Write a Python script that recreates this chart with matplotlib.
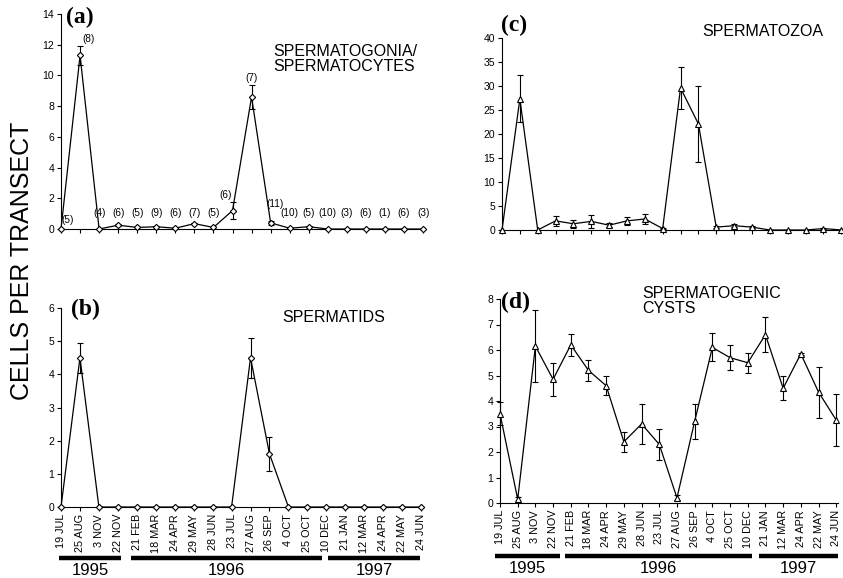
import matplotlib
matplotlib.use("Agg")
import matplotlib.pyplot as plt
import matplotlib.transforms as mtransforms
import numpy as np

plt.rcParams["font.family"] = ["Liberation Sans", "DejaVu Sans"]

dates = ["19 JUL", "25 AUG", "3 NOV", "22 NOV", "21 FEB", "18 MAR", "24 APR",
         "29 MAY", "28 JUN", "23 JUL", "27 AUG", "26 SEP", "4 OCT", "25 OCT",
         "10 DEC", "21 JAN", "12 MAR", "24 APR", "22 MAY", "24 JUN"]
years = ["1995", "1996", "1997"]

# (a) spermatogonia / spermatocytes
gonia = [0, 11.3, 0, 0.25, 0.1, 0.15, 0.05, 0.35, 0.1, 1.2,
         8.6, 0.4, 0.05, 0.15, 0, 0, 0, 0, 0, 0]
gonia_err = [0, 0.6, 0, 0.05, 0, 0.05, 0, 0.05, 0, 0.55,
             0.8, 0.15, 0, 0.05, 0, 0, 0, 0, 0, 0]
gonia_n = [5, 8, 4, 6, 5, 9, 6, 7, 5, 6, 7, 11, 10, 5, 10, 3, 6, 1, 6, 3]

# (b) spermatids
tids = [0, 4.5, 0, 0, 0, 0, 0, 0, 0, 0,
        4.5, 1.6, 0, 0, 0, 0, 0, 0, 0, 0]
tids_err = [0, 0.45, 0, 0, 0, 0, 0, 0, 0, 0,
            0.6, 0.52, 0, 0, 0, 0, 0, 0, 0, 0]

# (c) spermatozoa
zoa = [0, 27.3, 0, 1.9, 1.3, 1.8, 1.0, 1.9, 2.3, 0.3,
       29.6, 22.1, 0.6, 0.9, 0.6, 0, 0, 0, 0.3, 0]
zoa_err = [0, 4.9, 0, 1.1, 0.8, 1.3, 0.45, 0.9, 1.0, 0.1,
           4.4, 7.9, 0.2, 0.3, 0.2, 0, 0, 0, 0.1, 0]

# (d) spermatogenic cysts
cysts = [3.5, 0.15, 6.15, 4.85, 6.2, 5.2, 4.6, 2.4, 3.1, 2.3,
         0.2, 3.2, 6.1, 5.7, 5.5, 6.6, 4.5, 5.85, 4.35, 3.25]
cysts_err = [0.45, 0.1, 1.4, 0.65, 0.42, 0.42, 0.38, 0.4, 0.78, 0.6,
             0.1, 0.68, 0.55, 0.5, 0.4, 0.68, 0.48, 0.03, 1.0, 1.02]

W, H = 843, 578
fig = plt.figure(figsize=(W / 100, H / 100), dpi=100)


def px_axes(left, bottom_px, right, top_px):
    return fig.add_axes([left / W, 1 - bottom_px / H,
                         (right - left) / W, (bottom_px - top_px) / H])


def style(ax, ymax, ystep, show_labels):
    ax.spines["top"].set_visible(False)
    ax.spines["right"].set_visible(False)
    ax.set_xlim(0, 19.1)
    ax.set_ylim(0, ymax)
    ax.set_yticks(np.arange(0, ymax + 0.01, ystep))
    ax.set_xticks(np.arange(len(dates)))
    ax.tick_params(axis="both", direction="out", length=3, width=0.8,
                   labelsize=7.5, pad=2)
    if show_labels:
        ax.set_xticklabels(dates, rotation=90, fontsize=7.8)
    else:
        ax.set_xticklabels([])


def draw(ax, vals, errs, marker, ms):
    x = np.arange(len(vals))
    ax.errorbar(x, vals, yerr=errs, color="black", lw=0.9, elinewidth=0.8,
                capsize=2.5, capthick=0.8, marker=marker, ms=ms,
                mfc="white", mec="black", mew=0.8, clip_on=False, zorder=3)


def year_bars(ax, spans, bar_y, text_y):
    tr = mtransforms.blended_transform_factory(ax.transData, ax.transAxes)
    for yr, (a, b) in zip(years, spans):
        ax.plot([a, b], [bar_y, bar_y], color="black", lw=3.2,
                transform=tr, clip_on=False, solid_capstyle="butt")
        ax.text((a + b) / 2, text_y, yr, transform=tr, ha="center",
                va="center", fontsize=12)


ax_a = px_axes(61, 229, 425, 14)
ax_b = px_axes(61, 507, 423, 308)
ax_c = px_axes(502, 230, 843, 38)
ax_d = px_axes(500, 503, 838, 299)

style(ax_a, 14, 2, False)
style(ax_b, 6, 1, True)
style(ax_c, 40, 5, False)
style(ax_d, 8, 1, True)

draw(ax_a, gonia, gonia_err, "D", 3.2)
draw(ax_b, tids, tids_err, "D", 3.2)
draw(ax_c, zoa, zoa_err, "^", 4.2)
draw(ax_d, cysts, cysts_err, "^", 4.2)

# sample sizes in (a)
dx = {0: 0.37, 1: 0.42, 9: -0.35, 11: 0.25}
for i, n in enumerate(gonia_n):
    top = gonia[i] + gonia_err[i]
    ly = 0.6 if i == 0 else max(top + 0.45, 1.05)
    if i == 11:
        ly = 1.6
    ax_a.text(i + dx.get(i, 0), ly, f"({n})", ha="center", va="center",
              fontsize=7.2)

year_bars(ax_b, [(-0.1, 3.15), (3.67, 13.75), (14.07, 18.95)], -0.256, -0.318)
year_bars(ax_d, [(-0.28, 3.38), (3.66, 14.25), (14.65, 19.1)], -0.26, -0.322)

# panel letters and titles
def ftext(x, y, s, **kw):
    fig.text(x / W, 1 - y / H, s, **kw)

serif = dict(family=["Liberation Serif", "DejaVu Serif"], fontweight="bold",
             fontsize=17, va="center", ha="left")
ftext(66, 17, "(a)", **serif)
ftext(71, 309, "(b)", **serif)
ftext(501, 25, "(c)", **serif)
ftext(501, 302, "(d)", **serif)

ftext(273, 59, "SPERMATOGONIA/\nSPERMATOCYTES", fontsize=11.5, va="center",
      ha="left", linespacing=1.0)
ftext(702, 31, "SPERMATOZOA", fontsize=11.5, va="center", ha="left")
ftext(282, 318, "SPERMATIDS", fontsize=11.5, va="center", ha="left")
ftext(642, 301, "SPERMATOGENIC\nCYSTS", fontsize=11.5, va="center",
      ha="left", linespacing=1.0)

ftext(22, 261, "CELLS PER TRANSECT", fontsize=18, rotation=90,
      va="center", ha="center")

fig.savefig("out.png", dpi=100)
